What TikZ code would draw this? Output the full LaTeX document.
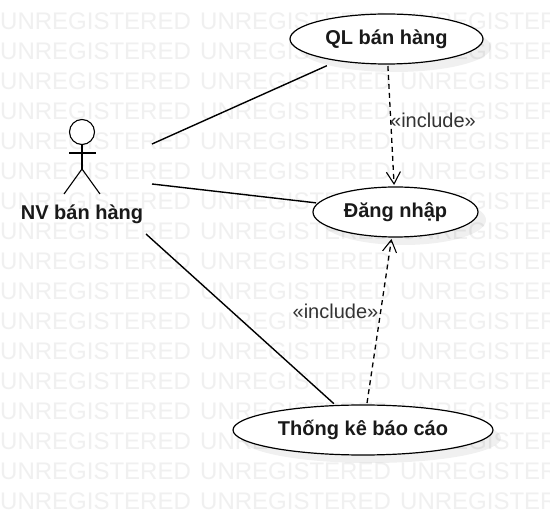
\documentclass[tikz,border=0pt]{standalone}
\usepackage{fontspec}
\setmainfont{Liberation Sans}
\usetikzlibrary{arrows.meta,shadows,shapes.geometric}
\definecolor{wm}{HTML}{F0F0F0}
\definecolor{inc}{HTML}{333333}
\newcommand{\lowered}[1]{\raisebox{-1pt}{#1}}
\tikzset{
  x=1pt,y=-1pt,
  wmtext/.style={anchor=base west,inner sep=0pt,text=wm,font=\fontsize{24}{24}\selectfont},
  usecase/.style={ellipse,draw=black,line width=1.2pt,fill=white,inner sep=0pt,outer sep=2pt,
    font=\fontsize{20}{22}\selectfont\bfseries,text=black!90,
    drop shadow={shadow xshift=8pt,shadow yshift=-8pt,fill=black,opacity=.06}},
  assoc/.style={draw=black,line width=1.4pt},
  incl/.style={draw=black,line width=1.3pt,dash pattern=on 5pt off 4pt,
    -{Straight Barb[length=12pt,width=14pt,line width=1.1pt]}},
  incltext/.style={inner sep=0pt,text=inc,font=\fontsize{20}{22}\selectfont},
  stick/.style={draw=black,line width=1.1pt},
  actorname/.style={inner sep=0pt,text=black!90,font=\fontsize{20}{22}\selectfont\bfseries}
}
\begin{document}
\begin{tikzpicture}
\useasboundingbox (0,0) rectangle (550,513);
\clip (0,0) rectangle (550,513);
\fill[white] (0,0) rectangle (550,513);
\foreach \r in {30,60,...,510}{
  \foreach \c in {0,200,400}{
    \node[wmtext] (wm-\r-\c) at (\c,\r) {UNREGISTERED};
  }
}
% actor
\node[circle,draw=black,line width=1.1pt,fill=white,minimum size=25pt,inner sep=0pt,outer sep=0pt] (head) at (82,132) {};
\coordinate (neck) at (82,169);
\coordinate (armL) at (69,153);
\coordinate (armR) at (96,153);
\coordinate (legL) at (64,194);
\coordinate (legR) at (100,194);
\draw[stick] (head.south) -- (neck);
\draw[stick] (armL) -- (armR);
\draw[stick] (legL) -- (neck) -- (legR);
\node[actorname] (actor) at (82,214) {NV bán hàng};
% use cases
\node[usecase,minimum width=193pt,minimum height=50pt] (ql) at (386.5,39) {\lowered{QL bán hàng}};
\node[usecase,minimum width=165pt,minimum height=50pt] (dn) at (395.5,212) {\lowered{Đăng nhập}};
\node[usecase,minimum width=260pt,minimum height=50pt] (tk) at (363,430) {\lowered{Thống kê báo cáo}};
% free ends of the associations
\coordinate (a1) at (152,144);
\coordinate (a2) at (152,184);
\coordinate (a3) at (146,234);
\draw[assoc,shorten >=9pt] (a1) -- (ql);
\draw[assoc] (a2) -- (dn);
\draw[assoc] (a3) -- (tk);
\draw[incl] (ql) -- (dn);
\draw[incl] (tk) -- (dn);
\node[incltext] (inc1) at (433,120) {«include»};
\node[incltext] (inc2) at (335.5,311) {«include»};
\end{tikzpicture}
\end{document}
